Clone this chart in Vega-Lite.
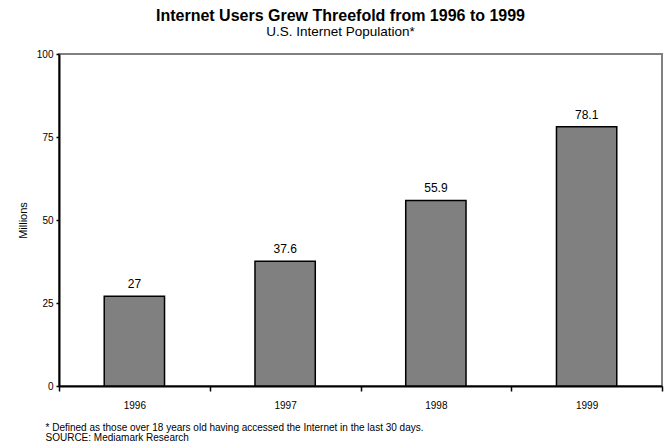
{
  "$schema": "https://vega.github.io/schema/vega-lite/v6.json",
  "autosize": {"type": "none"},
  "padding": {"left": 59, "top": 54, "right": 5, "bottom": 56},
  "width": 603,
  "height": 332,
  "background": "white",
  "config": {
    "font": "Liberation Sans",
    "view": {"stroke": "#808080", "strokeWidth": 2}
  },
  "title": {
    "text": "Internet Users Grew Threefold from 1996 to 1999",
    "subtitle": "U.S. Internet Population*",
    "anchor": "middle",
    "frame": "group",
    "dx": -20,
    "offset": 11,
    "font": "Liberation Sans",
    "fontSize": 16,
    "fontWeight": "bold",
    "color": "black",
    "subtitleFont": "Liberation Sans",
    "subtitleFontSize": 13.5,
    "subtitleColor": "black",
    "subtitlePadding": 1
  },
  "data": {
    "values": [
      {"year": "1996", "users": 27},
      {"year": "1997", "users": 37.6},
      {"year": "1998", "users": 55.9},
      {"year": "1999", "users": 78.1}
    ]
  },
  "encoding": {
    "x": {
      "field": "year",
      "type": "nominal",
      "sort": null,
      "scale": {"paddingInner": 0.6, "paddingOuter": 0.3},
      "axis": {
        "title": ["* Defined as those over 18 years old having accessed the Internet in the last 30 days.", "SOURCE: Mediamark Research"],
        "titleFont": "Liberation Sans",
        "titleFontSize": 10,
        "titleFontWeight": "normal",
        "titleColor": "black",
        "titleAnchor": "start",
        "titleAlign": "left",
        "titleX": -14,
        "titleY": 44.5,
        "titleLineHeight": 9.5,
        "titleBaseline": "alphabetic",
        "labelAngle": 0,
        "labelFont": "Liberation Sans",
        "labelFontSize": 10,
        "labelColor": "black",
        "labelPadding": 9,
        "bandPosition": 2.5,
        "tickOffset": -45.225,
        "labelOffset": 45.225,
        "tickExtra": true,
        "tickSize": 5,
        "tickColor": "black",
        "tickWidth": 1.5,
        "domainColor": "black",
        "domainWidth": 2
      }
    },
    "y": {
      "field": "users",
      "type": "quantitative",
      "scale": {"domain": [0, 100]},
      "axis": {
        "title": "Millions",
        "titleFont": "Liberation Sans",
        "titleFontSize": 11,
        "titleFontWeight": "normal",
        "titleColor": "black",
        "titlePadding": 8,
        "values": [0, 25, 50, 75, 100],
        "grid": false,
        "labelFont": "Liberation Sans",
        "labelFontSize": 10,
        "labelColor": "black",
        "labelPadding": 3,
        "tickSize": 3,
        "tickColor": "black",
        "tickWidth": 1.5,
        "domainColor": "black",
        "domainWidth": 2
      }
    }
  },
  "layer": [
    {
      "mark": {"type": "bar", "fill": "#808080", "stroke": "black", "strokeWidth": 1.5}
    },
    {
      "mark": {"type": "text", "baseline": "alphabetic", "dy": -8, "fontSize": 12, "color": "black", "font": "Liberation Sans"},
      "encoding": {"text": {"field": "users", "type": "quantitative"}}
    }
  ]
}
